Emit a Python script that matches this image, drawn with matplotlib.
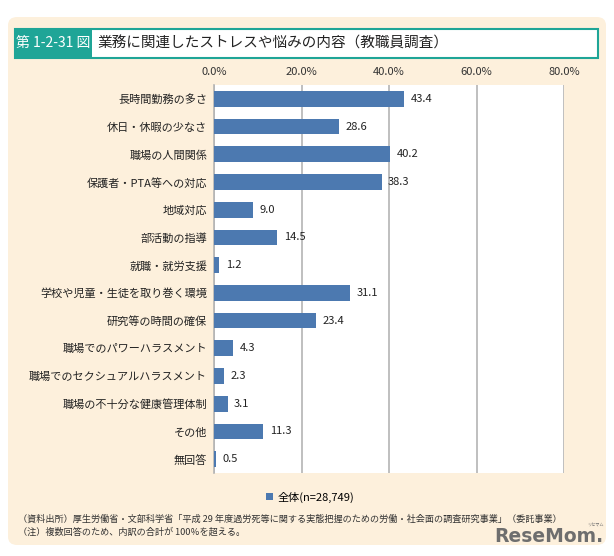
import matplotlib
matplotlib.use("Agg")
from matplotlib import pyplot as plt
from matplotlib.patches import FancyBboxPatch, Rectangle

plt.rcParams['font.family'] = ['Noto Sans CJK JP', 'DejaVu Sans']

# データ
categories = ["長時間勤務の多さ", "休日・休暇の少なさ", "職場の人間関係", "保護者・PTA等への対応",
              "地域対応", "部活動の指導", "就職・就労支援", "学校や児童・生徒を取り巻く環境",
              "研究等の時間の確保", "職場でのパワーハラスメント", "職場でのセクシュアルハラスメント",
              "職場の不十分な健康管理体制", "その他", "無回答"]
values = [43.4, 28.6, 40.2, 38.3, 9.0, 14.5, 1.2, 31.1, 23.4, 4.3, 2.3, 3.1, 11.3, 0.5]
xticks = [0, 20, 40, 60, 80]
xtick_labels = ["0.0%", "20.0%", "40.0%", "60.0%", "80.0%"]
series_label = "全体(n=28,749)"
title_num = "第 1-2-31 図"
title = "業務に関連したストレスや悩みの内容（教職員調査）"
notes = ["（資料出所）厚生労働省・文部科学省「平成 29 年度過労死等に関する実態把握のための労働・社会面の調査研究事業」（委託事業）",
         "（注）複数回答のため、内訳の合計が 100％を超える。"]

bar_color = "#4c79b0"
teal = "#1fa597"
beige = "#fdf0dc"

fig = plt.figure(figsize=(6.14, 5.56), dpi=100)
fig.patch.set_facecolor("white")

# 背景パネル
panel = FancyBboxPatch((8 / 614, 1 - 545 / 556), 598 / 614, 528 / 556,
                       boxstyle="round,pad=0,rounding_size=0.015",
                       transform=fig.transFigure, facecolor=beige, edgecolor="none", zorder=0)
fig.patches.append(panel)

# タイトルバー
fig.patches.append(Rectangle((15 / 614, 1 - 58 / 556), 583 / 614, 29 / 556, transform=fig.transFigure,
                             facecolor="white", edgecolor=teal, linewidth=1.5, zorder=1))
fig.patches.append(Rectangle((15 / 614, 1 - 58 / 556), 77 / 614, 29 / 556, transform=fig.transFigure,
                             facecolor=teal, edgecolor="none", zorder=2))
fig.text(53 / 614, 1 - 43.5 / 556, title_num, color="white", fontsize=10, ha="center", va="center", zorder=3)
fig.text(97 / 614, 1 - 43.5 / 556, title, color="#222222", fontsize=10.5, ha="left", va="center", zorder=3)

ax = fig.add_axes([214 / 614, 1 - 473 / 556, 350 / 614, 388 / 556])
ax.set_zorder(5)
ax.set_facecolor("white")
y = range(len(categories))
ax.barh(y, values, height=0.57, color=bar_color, zorder=3, label=series_label)
for i, v in enumerate(values):
    ax.text(v + 1.5, i, f"{v:.1f}", va="center", ha="left", fontsize=8, color="#222222", zorder=4)

ax.set_xlim(0, 80)
ax.set_ylim(len(categories) - 0.5, -0.5)
ax.set_xticks(xticks)
ax.set_xticklabels(xtick_labels, fontsize=8, color="#333333")
ax.xaxis.tick_top()
ax.tick_params(axis="x", length=0, pad=6)
ax.set_yticks(list(y))
ax.set_yticklabels(categories, fontsize=8, color="#222222")
ax.tick_params(axis="y", length=0, pad=5)
ax.grid(axis="x", color="#b4b4b4", linewidth=1.2, zorder=1)
for s in ["top", "bottom", "right"]:
    ax.spines[s].set_visible(False)
ax.spines["left"].set_color("#b4b4b4")
ax.spines["left"].set_linewidth(1.2)

fig.legend(loc="center", bbox_to_anchor=(310 / 614, 1 - 497 / 556), frameon=False,
           fontsize=8, handlelength=0.7, handleheight=0.7, handletextpad=0.4)

fig.text(18 / 614, 1 - 519 / 556, notes[0], fontsize=6.6, color="#333333", va="center")
fig.text(18 / 614, 1 - 532 / 556, notes[1], fontsize=6.6, color="#333333", va="center")

# ロゴ
fig.text(603 / 614, 1 - 536 / 556, "ReseMom.", fontsize=13.5, fontweight="bold", color="#6e6e6e",
         ha="right", va="center", family="DejaVu Sans")
fig.text(595 / 614, 1 - 525 / 556, "リセマム", fontsize=3, color="#6e6e6e", ha="center", va="center")

fig.savefig("out.png", dpi=100)
